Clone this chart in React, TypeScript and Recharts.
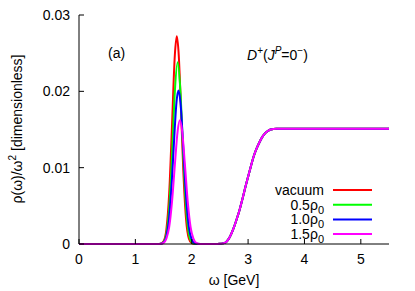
import React from 'react';
import { LineChart, Line, XAxis, YAxis } from 'recharts';

const xTicks = [0, 1, 2, 3, 4, 5];
const yTicks = [0, 0.01, 0.02, 0.03];

const seriesLabels = ['vacuum', '0.5', '1.0', '1.5'];
const seriesColors = ['#ff0000', '#00ff00', '#0000ff', '#ff00ff'];

// resonance peak of each density
const omegaVac = [0, 1.3, 1.4, 1.45, 1.5, 1.55, 1.6, 1.65, 1.7, 1.735, 1.77, 1.8, 1.85, 1.9, 1.95, 2.0, 2.05];
const rhoVac = [0, 0, 0, 0.00005, 0.00036, 0.0019, 0.0066, 0.0155, 0.0247, 0.0272, 0.0247, 0.0196, 0.0097, 0.0032, 0.0007, 0.0001, 0];

const omega05 = [0, 1.3, 1.4, 1.45, 1.5, 1.55, 1.6, 1.65, 1.7, 1.75, 1.8, 1.85, 1.9, 1.95, 2.0, 2.05];
const rho05 = [0, 0, 0, 0.00003, 0.00026, 0.0013, 0.0047, 0.0115, 0.0199, 0.0238, 0.0199, 0.0115, 0.0047, 0.0013, 0.00026, 0.00003];

const omega10 = [0, 1.3, 1.4, 1.45, 1.5, 1.55, 1.6, 1.65, 1.7, 1.73, 1.765, 1.8, 1.85, 1.9, 1.95, 2.0, 2.05];
const rho10 = [0, 0, 0, 0.00003, 0.0002, 0.001, 0.0035, 0.0086, 0.0153, 0.0186, 0.0201, 0.0186, 0.0126, 0.0062, 0.0022, 0.0006, 0.0001];

const omega15 = [0, 1.3, 1.4, 1.45, 1.5, 1.55, 1.6, 1.65, 1.7, 1.75, 1.79, 1.83, 1.88, 1.93, 1.98, 2.03, 2.08];
const rho15 = [0, 0, 0, 0.00003, 0.00015, 0.0007, 0.0022, 0.0055, 0.0103, 0.0148, 0.0162, 0.0148, 0.0103, 0.0055, 0.0022, 0.0007, 0.00015];

// continuum, the same for all densities
const omegaCont = [2.15, 2.3, 2.45, 2.5, 2.55, 2.6, 2.65, 2.7, 2.75, 2.8, 2.85, 2.9, 2.95, 3.0, 3.05, 3.1, 3.15, 3.2, 3.25, 3.3, 3.35, 3.4, 3.5, 3.7, 4.0, 4.5, 5.0, 5.5];
const rhoCont = [0, 0, 0, 0.00002, 0.00008, 0.0002, 0.0006, 0.0013, 0.0022, 0.0033, 0.0045, 0.0059, 0.0074, 0.0088, 0.0102, 0.0115, 0.0125, 0.0133, 0.014, 0.0145, 0.0148, 0.015, 0.0151, 0.0151, 0.0151, 0.0151, 0.0151, 0.0151];

const toPoints = (xs: number[], ys: number[]) =>
  xs.map((x, i) => ({ x, y: ys[i] })).concat(omegaCont.map((x, i) => ({ x, y: rhoCont[i] })));

const series = [
  toPoints(omegaVac, rhoVac),
  toPoints(omega05, rho05),
  toPoints(omega10, rho10),
  toPoints(omega15, rho15),
];

const font = '"Liberation Sans", Arial, sans-serif';

export default function App() {
  return (
    <div style={{ position: 'absolute', left: 0, top: 0, width: 415, height: 291, background: '#fff' }}>
      <LineChart width={415} height={291} margin={{ top: 15, right: 26, bottom: 17, left: 19 }}>
        <XAxis
          dataKey="x"
          type="number"
          domain={[0, 5.5]}
          ticks={xTicks}
          allowDataOverflow
          height={30}
          tickSize={-5}
          tickMargin={15}
          stroke="#000"
          tick={{ fill: '#000', fontSize: 14, fontFamily: font }}
        />
        <XAxis
          xAxisId="top"
          orientation="top"
          type="number"
          domain={[0, 5.5]}
          ticks={xTicks}
          height={0}
          tickSize={-5}
          tickFormatter={() => ''}
          stroke="#000"
        />
        <YAxis
          type="number"
          domain={[0, 0.03]}
          ticks={yTicks}
          width={60}
          tickSize={-5}
          tickMargin={14}
          stroke="#000"
          tickFormatter={(v: number) => (v === 0 ? '0' : String(v))}
          tick={{ fill: '#000', fontSize: 14, fontFamily: font }}
        />
        <YAxis
          yAxisId="right"
          orientation="right"
          type="number"
          domain={[0, 0.03]}
          ticks={yTicks}
          width={0}
          tickSize={-5}
          tickFormatter={() => ''}
          stroke="#000"
        />
        {series.map((pts, i) => (
          <Line
            key={seriesLabels[i]}
            data={pts}
            dataKey="y"
            type="monotone"
            stroke={seriesColors[i]}
            strokeWidth={2}
            dot={false}
            isAnimationActive={false}
          />
        ))}
      </LineChart>
      <svg width={415} height={291} style={{ position: 'absolute', left: 0, top: 0, pointerEvents: 'none' }} fontFamily={font} fontSize={14} fill="#000">
        <text x={108} y={58}>(a)</text>
        <text x={247} y={60}>
          <tspan fontStyle="italic">D</tspan>
          <tspan dy={-6} fontSize={10}>+</tspan>
          <tspan dy={6}>(</tspan>
          <tspan fontStyle="italic">J</tspan>
          <tspan dy={-6} fontSize={10} fontStyle="italic">P</tspan>
          <tspan dy={6}>=0</tspan>
          <tspan dy={-6} fontSize={10}>−</tspan>
          <tspan dy={6}>)</tspan>
        </text>
        <text transform="translate(22,129) rotate(-90)" textAnchor="middle">
          ρ(ω)/ω<tspan dy={-6} fontSize={10}>2</tspan>
          <tspan dy={6}> [dimensionless]</tspan>
        </text>
        <text x={234} y={285} textAnchor="middle">ω [GeV]</text>
        {seriesLabels.map((lab, i) => {
          const y = 190 + i * 14.7;
          return (
            <g key={lab}>
              <text x={324} y={y + 5} textAnchor="end">
                {i === 0 ? lab : (
                  <>
                    {lab}ρ<tspan dy={4} fontSize={11}>0</tspan>
                  </>
                )}
              </text>
              <line x1={333} x2={372} y1={y} y2={y} stroke={seriesColors[i]} strokeWidth={2} />
            </g>
          );
        })}
      </svg>
    </div>
  );
}
